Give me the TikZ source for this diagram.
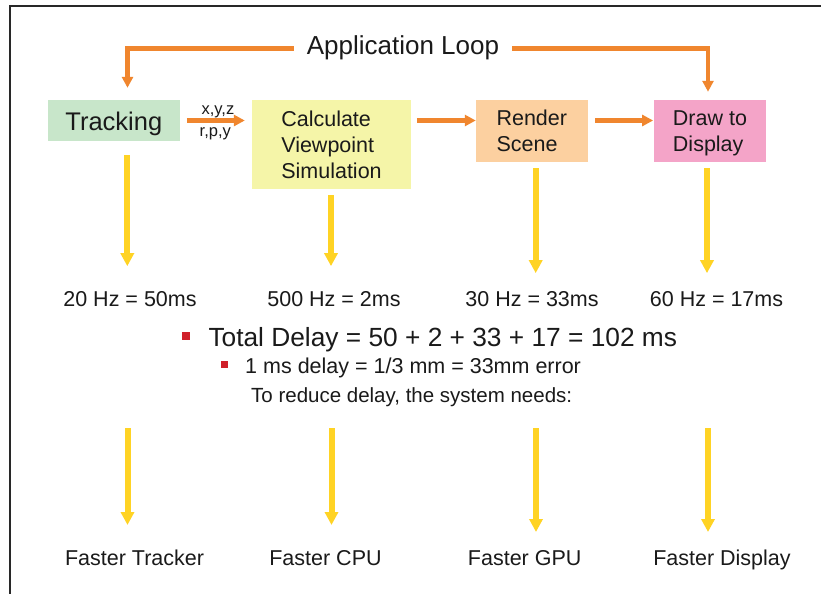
\documentclass[tikz,border=0pt]{standalone}
\usepackage{fontspec}
\setmainfont{Liberation Sans}
\usetikzlibrary{arrows.meta}
\definecolor{orng}{RGB}{240,134,46}
\definecolor{yel}{RGB}{255,211,36}
\definecolor{bred}{RGB}{208,32,42}
\definecolor{gfill}{RGB}{200,230,202}
\definecolor{yfill}{RGB}{245,245,168}
\definecolor{pfill}{RGB}{252,208,160}
\definecolor{kfill}{RGB}{244,164,200}
\definecolor{txt}{RGB}{26,26,26}
\definecolor{framecol}{RGB}{40,40,40}
\begin{document}
\begin{tikzpicture}[x=1pt,y=-1pt,
  box/.style={rectangle,inner sep=0pt,text=txt},
  multibox/.style={box,align=left,text depth=0pt,font=\fontsize{21.5}{26}\selectfont},
  oarr/.style={draw=orng,line width=4.5pt,-{Triangle[length=11pt,width=11pt]}},
  yarr/.style={draw=yel,line width=6pt,-{Triangle[length=13pt,width=13pt]}},
  lbl/.style={text=txt,inner sep=0pt,anchor=base,font=\fontsize{21.5}{25.5}\selectfont},
  small/.style={text=txt,inner sep=0pt,anchor=base,font=\fontsize{16.5}{19}\selectfont},
  bullet/.style={fill=bred,draw=none,inner sep=0pt}]
\useasboundingbox (0,0) rectangle (821,594);
\fill[white] (0,0) rectangle (821,594);
% frame
\draw[framecol,line width=1.7pt] (821,5.8) -- (9.8,5.8) -- (9.8,594);

% boxes
\node[box,fill=gfill,minimum width=132.3pt,minimum height=41pt,text height=20pt,text depth=1pt,
      font=\fontsize{25.5}{30}\selectfont] (track) at (113.8,120.5) {Tracking};
\node[multibox,fill=yfill,minimum width=159pt,minimum height=88.7pt] (calc) at (331.5,144.3)
      {Calculate\\Viewpoint\\Simulation};
\node[multibox,fill=pfill,minimum width=111.7pt,minimum height=61.7pt] (render) at (531.8,130.8)
      {Render\\Scene};
\node[multibox,fill=kfill,minimum width=112pt,minimum height=61.7pt] (display) at (710,130.8)
      {Draw to\\Display};

% application loop
\node[text=txt,inner xsep=13pt,inner ysep=0pt,anchor=base,font=\fontsize{26}{30}\selectfont]
      (app) at (403,55) {Application Loop};
\draw[oarr] (app.west) -| ([xshift=13.7pt,yshift=12pt]track.north);
\draw[oarr] (app.east) -| ([xshift=-2pt,yshift=8pt]display.north);

% pipeline arrows
\draw[oarr,shorten <=6.7pt,shorten >=7pt] (track.east) -- (track.east -| calc.west);
\node[small] (xyz) at (217.9,114.3) {x,y,z};
\node[small] (rpy) at (215.3,136.5) {r,p,y};
\draw[oarr,shorten <=5.7pt] (calc.east |- track.east) -- (render.west |- track.east);
\draw[oarr,shorten <=7.3pt,shorten >=0.7pt] (render.east |- track.east) -- (display.west |- track.east);

% rates
\draw[yarr] ([xshift=13.5pt,yshift=-14pt]track.south) -- ++(0,111);
\draw[yarr] ([xshift=-0.5pt,yshift=-6.3pt]calc.south) -- ++(0,71);
\draw[yarr] ([xshift=3.9pt,yshift=-6.3pt]render.south) -- ++(0,105);
\draw[yarr] ([xshift=-3pt,yshift=-6.3pt]display.south) -- ++(0,105);
\node[lbl] (r1) at (130,306) {20 Hz = 50ms};
\node[lbl] (r2) at (334,306) {500 Hz = 2ms};
\node[lbl] (r3) at (532,306) {30 Hz = 33ms};
\node[lbl] (r4) at (716.5,306) {60 Hz = 17ms};

% bullets
\node[bullet,minimum size=8pt] (b1) at (185.5,335.5) {};
\node[text=txt,inner sep=0pt,anchor=base west,font=\fontsize{26.3}{30}\selectfont] (total) at (208.3,346)
      {Total Delay = 50 + 2 + 33 + 17 = 102 ms};
\node[bullet,minimum size=7pt] (b2) at (224,364) {};
\node[lbl,anchor=base west] (err) at (245,373) {1 ms delay = 1/3 mm = 33mm error};
\node[text=txt,inner sep=0pt,anchor=base west,font=\fontsize{20.5}{24}\selectfont] (reduce) at (251,402)
      {To reduce delay, the system needs:};

% needs
\coordinate (s1) at (127.5,428); \coordinate (e1) at (127.5,525);
\coordinate (s2) at (331.5,428); \coordinate (e2) at (331.5,525);
\coordinate (s3) at (536,428);   \coordinate (e3) at (536,532);
\coordinate (s4) at (708,428);   \coordinate (e4) at (708,532);
\draw[yarr] (s1) -- (e1);
\draw[yarr] (s2) -- (e2);
\draw[yarr] (s3) -- (e3);
\draw[yarr] (s4) -- (e4);
\node[lbl] (f1) at (134.5,565) {Faster Tracker};
\node[lbl] (f2) at (325.5,565) {Faster CPU};
\node[lbl] (f3) at (524.7,565) {Faster GPU};
\node[lbl] (f4) at (722,565) {Faster Display};
\end{tikzpicture}
\end{document}
